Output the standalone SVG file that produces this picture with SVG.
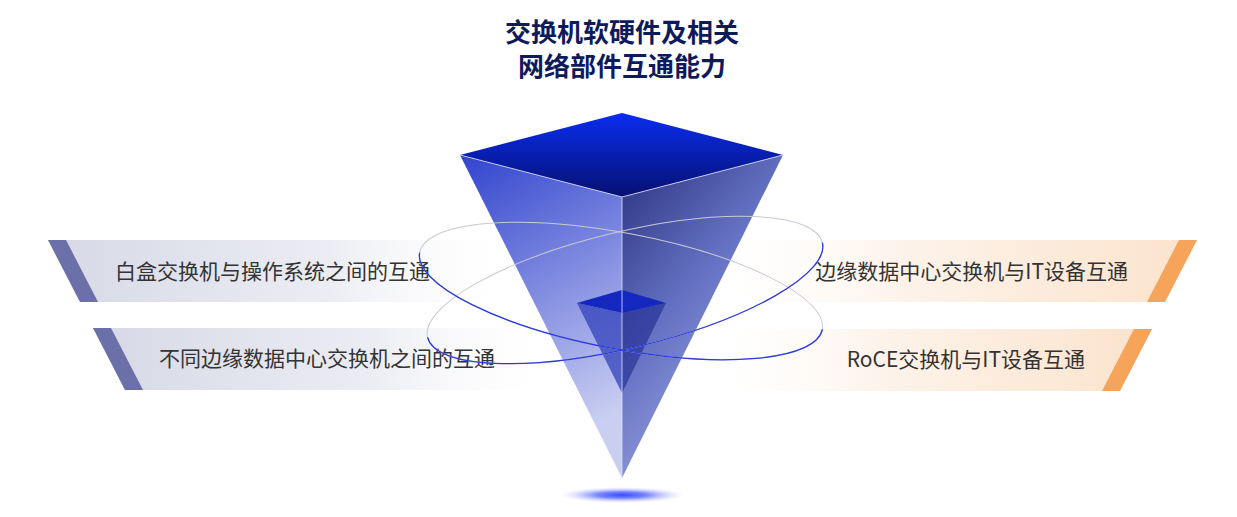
<svg xmlns="http://www.w3.org/2000/svg" width="1237" height="517" viewBox="0 0 1237 517">
<defs>
<linearGradient id="bl" x1="0" y1="0" x2="1" y2="0"><stop offset="0" stop-color="#d6d8e6"/><stop offset="0.6" stop-color="#ecedf3"/><stop offset="1" stop-color="#ffffff" stop-opacity="0"/></linearGradient>
<linearGradient id="br" x1="1" y1="0" x2="0" y2="0"><stop offset="0" stop-color="#fbe3cc"/><stop offset="0.6" stop-color="#fdf3ea"/><stop offset="1" stop-color="#ffffff" stop-opacity="0"/></linearGradient>
<linearGradient id="top" x1="0" y1="0" x2="0" y2="1"><stop offset="0" stop-color="#0a2df0"/><stop offset="1" stop-color="#061070"/></linearGradient>
<linearGradient id="lf" x1="0" y1="0" x2="0.3" y2="1"><stop offset="0" stop-color="#1a2fc8"/><stop offset="1" stop-color="#c4c9f0"/></linearGradient>
<linearGradient id="rf" x1="0" y1="0" x2="0.6" y2="1"><stop offset="0" stop-color="#101a70"/><stop offset="0.5" stop-color="#5563bd"/><stop offset="1" stop-color="#9aa3e0"/></linearGradient>
<radialGradient id="sh"><stop offset="0" stop-color="#3a4cff"/><stop offset="0.4" stop-color="#7a86ff"/><stop offset="1" stop-color="#d0d4ff" stop-opacity="0"/></radialGradient>
<style>
.t{font-family:"Noto Sans CJK SC","Noto Sans",sans-serif;font-size:21px;fill:#333;}
.h{font-family:"Noto Sans CJK SC",sans-serif;font-size:26px;font-weight:bold;fill:#0d1a5c;text-anchor:middle;}
.back{fill:none;stroke:#c8cad6;stroke-width:1}
.front{fill:none;stroke:#2b3be0;stroke-width:1.3}
</style>
</defs>
<text class="h" x="622" y="42">交换机软硬件及相关</text>
<text class="h" x="622" y="76">网络部件互通能力</text>
<g id="banner-l1"><polygon points="48,240 520,240 520,302 80,302" fill="url(#bl)"/><polygon points="48,240 66,240 98,302 80,302" fill="#6b70a8"/><text class="t" x="115" y="279">白盒交换机与操作系统之间的互通</text></g>
<g id="banner-l2"><polygon points="93,328 560,328 560,390 125,390" fill="url(#bl)"/><polygon points="93,328 111,328 143,390 125,390" fill="#6b70a8"/><text class="t" x="159" y="366">不同边缘数据中心交换机之间的互通</text></g>
<g id="banner-r1"><polygon points="700,240 1197,240 1165,302 700,302" fill="url(#br)"/><polygon points="1179,240 1197,240 1165,302 1147,302" fill="#f5a45a"/><text class="t" x="1128" y="279" text-anchor="end">边缘数据中心交换机与IT设备互通</text></g>
<g id="banner-r2"><polygon points="700,329 1152,329 1120,391 700,391" fill="url(#br)"/><polygon points="1134,329 1152,329 1120,391 1102,391" fill="#f5a45a"/><text class="t" x="1085" y="367" text-anchor="end">RoCE交换机与IT设备互通</text></g>
<g id="pyramid">
<ellipse cx="622" cy="495" rx="62" ry="8" fill="url(#sh)"/>
<polygon points="460,155 622,197 622,478" fill="url(#lf)" opacity="0.9"/>
<polygon points="783,155 622,197 622,478" fill="url(#rf)" opacity="0.9"/>
<polygon points="460,155 622,113 783,155 622,197" fill="url(#top)"/>
<polygon points="577,303 622,313 622,393" fill="#2a3ab8" opacity="0.7"/>
<polygon points="666,303 622,313 622,393" fill="#1e2a90" opacity="0.6"/>
<polygon points="577,303 622,290 666,303 622,313" fill="#1428c0"/>
<path d="M460,155 L622,197 L783,155 M622,197 L622,478" fill="none" stroke="#dfe3ff" stroke-width="1" opacity="0.8"/>
</g>
<g id="connectors">
<ellipse class="back" cx="621" cy="291" rx="205" ry="58" transform="rotate(10.8 621 291)"/>
<ellipse class="back" cx="625" cy="290" rx="203" ry="58" transform="rotate(-13.5 625 290)"/>
<path class="front" d="M416,291 A205,58 0 0 0 826,291" transform="rotate(10.8 621 291)"/>
<path class="front" d="M422,290 A203,58 0 0 0 828,290" transform="rotate(-13.5 625 290)"/>
</g>
</svg>
